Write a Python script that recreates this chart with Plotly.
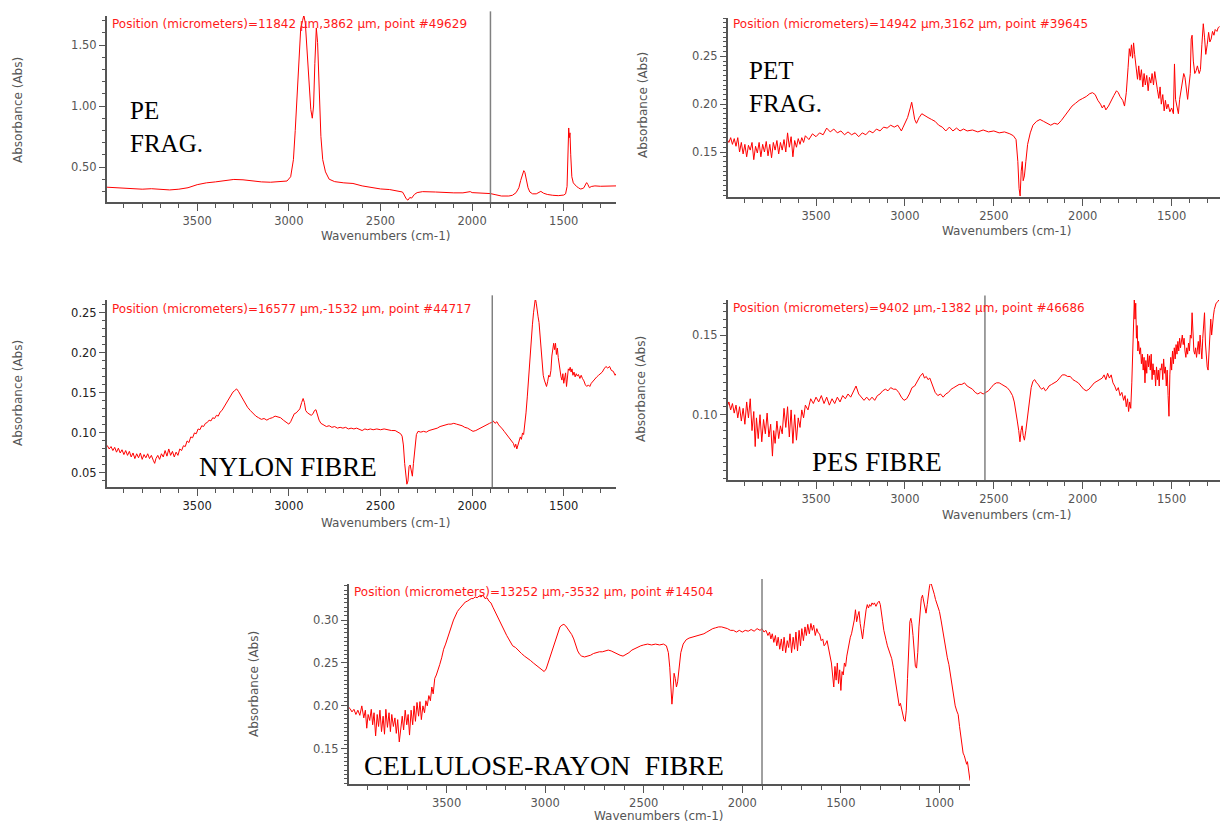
import plotly.graph_objects as go

# ---------------- data ----------------
PE_WN = [
4000, 3950, 3900, 3850, 3800, 3750, 3700, 3650, 3600, 3550,
3500, 3450, 3400, 3350, 3300, 3250, 3200, 3150, 3100, 3050,
3010, 2990, 2975, 2965, 2955, 2945, 2935, 2925, 2918, 2910,
2900, 2890, 2880, 2872, 2865, 2858, 2850, 2843, 2835, 2825,
2815, 2800, 2780, 2750, 2700, 2650, 2600, 2550, 2500, 2450,
2400, 2380, 2370, 2360, 2350, 2340, 2330, 2315, 2300, 2270,
2200, 2150, 2100, 2050, 2020, 2010, 2000, 1950, 1900, 1870,
1840, 1800, 1780, 1760, 1745, 1735, 1725, 1718, 1712, 1705,
1695, 1685, 1670, 1650, 1635, 1625, 1610, 1590, 1560, 1530,
1500, 1490, 1482, 1477, 1473, 1470, 1466, 1462, 1456, 1448,
1440, 1430, 1420, 1410, 1400, 1390, 1380, 1375, 1368, 1360,
1350, 1330, 1300, 1260, 1215]
PE_ABS = [
0.335, 0.330, 0.328, 0.322, 0.318, 0.322, 0.315, 0.312, 0.318, 0.330,
0.355, 0.370, 0.378, 0.388, 0.398, 0.395, 0.385, 0.378, 0.375, 0.378,
0.385, 0.420, 0.560, 0.800, 1.100, 1.420, 1.640, 1.700, 1.745, 1.680,
1.450, 1.150, 0.970, 0.900, 1.000, 1.350, 1.640, 1.520, 1.100, 0.750,
0.560, 0.460, 0.400, 0.380, 0.370, 0.365, 0.345, 0.330, 0.320, 0.315,
0.305, 0.295, 0.270, 0.240, 0.228, 0.250, 0.245, 0.275, 0.290, 0.298,
0.295, 0.290, 0.288, 0.288, 0.292, 0.298, 0.290, 0.288, 0.282, 0.272,
0.262, 0.262, 0.268, 0.290, 0.330, 0.390, 0.445, 0.470, 0.455, 0.400,
0.330, 0.295, 0.280, 0.280, 0.295, 0.300, 0.285, 0.275, 0.268, 0.265,
0.270, 0.280, 0.340, 0.550, 0.820, 0.740, 0.780, 0.600, 0.420, 0.370,
0.355, 0.340, 0.330, 0.320, 0.322, 0.330, 0.360, 0.372, 0.355, 0.330,
0.340, 0.345, 0.342, 0.345, 0.345]

PET_WN = [
4000, 3990, 3980, 3970, 3960, 3950, 3940, 3930, 3920, 3910,
3900, 3890, 3880, 3870, 3860, 3850, 3840, 3830, 3820, 3810,
3800, 3790, 3780, 3770, 3760, 3750, 3740, 3730, 3720, 3710,
3700, 3690, 3680, 3670, 3660, 3650, 3640, 3630, 3620, 3610,
3600, 3590, 3580, 3570, 3560, 3540, 3520, 3500, 3480, 3460,
3440, 3420, 3400, 3380, 3360, 3340, 3320, 3300, 3280, 3260,
3240, 3220, 3200, 3180, 3160, 3140, 3120, 3100, 3080, 3060,
3040, 3020, 3010, 3000, 2985, 2970, 2962, 2955, 2945, 2935,
2920, 2905, 2890, 2870, 2850, 2830, 2810, 2790, 2770, 2750,
2730, 2710, 2690, 2670, 2650, 2620, 2590, 2560, 2530, 2500,
2470, 2440, 2410, 2390, 2375, 2365, 2358, 2352, 2346, 2340,
2335, 2328, 2320, 2310, 2295, 2280, 2260, 2240, 2220, 2200,
2180, 2160, 2140, 2120, 2100, 2080, 2060, 2040, 2020, 2000,
1980, 1960, 1945, 1930, 1915, 1900, 1890, 1880, 1870, 1855,
1840, 1825, 1810, 1800, 1790, 1775, 1765, 1755, 1745, 1738,
1732, 1726, 1720, 1714, 1708, 1700, 1692, 1685, 1678, 1670,
1662, 1655, 1648, 1640, 1632, 1625, 1617, 1610, 1602, 1595,
1588, 1580, 1572, 1565, 1558, 1550, 1542, 1535, 1528, 1520,
1510, 1500, 1490, 1484, 1478, 1470, 1462, 1455, 1448, 1440,
1432, 1425, 1418, 1410, 1402, 1395, 1390, 1385, 1378, 1370,
1362, 1355, 1345, 1338, 1330, 1322, 1315, 1308, 1300, 1292,
1285, 1278, 1270, 1262, 1255, 1245, 1238, 1230]
PET_ABS = [
0.163, 0.160, 0.165, 0.158, 0.164, 0.156, 0.165, 0.150, 0.160, 0.148,
0.158, 0.145, 0.157, 0.152, 0.160, 0.142, 0.156, 0.149, 0.160, 0.145,
0.158, 0.150, 0.161, 0.146, 0.158, 0.144, 0.160, 0.152, 0.162, 0.148,
0.160, 0.152, 0.163, 0.150, 0.170, 0.155, 0.166, 0.145, 0.162, 0.155,
0.164, 0.158, 0.165, 0.160, 0.167, 0.163, 0.169, 0.166, 0.170, 0.168,
0.175, 0.171, 0.174, 0.170, 0.172, 0.168, 0.171, 0.168, 0.170, 0.166,
0.170, 0.168, 0.172, 0.170, 0.174, 0.172, 0.176, 0.175, 0.178, 0.176,
0.178, 0.172, 0.176, 0.180, 0.186, 0.196, 0.202, 0.195, 0.184, 0.180,
0.186, 0.190, 0.188, 0.186, 0.184, 0.182, 0.178, 0.176, 0.172, 0.176,
0.172, 0.175, 0.172, 0.174, 0.172, 0.173, 0.171, 0.173, 0.171, 0.172,
0.170, 0.171, 0.169, 0.167, 0.163, 0.140, 0.112, 0.104, 0.130, 0.140,
0.120, 0.125, 0.140, 0.158, 0.170, 0.178, 0.182, 0.184, 0.182, 0.180,
0.178, 0.180, 0.179, 0.183, 0.188, 0.194, 0.198, 0.201, 0.204, 0.206,
0.208, 0.211, 0.212, 0.210, 0.204, 0.200, 0.196, 0.199, 0.194, 0.198,
0.204, 0.209, 0.214, 0.212, 0.208, 0.204, 0.198, 0.212, 0.238, 0.258,
0.250, 0.262, 0.248, 0.264, 0.252, 0.238, 0.226, 0.240, 0.225, 0.236,
0.218, 0.232, 0.220, 0.230, 0.214, 0.228, 0.222, 0.232, 0.220, 0.234,
0.222, 0.215, 0.206, 0.218, 0.200, 0.210, 0.193, 0.204, 0.195, 0.200,
0.192, 0.196, 0.190, 0.242, 0.205, 0.196, 0.190, 0.205, 0.215, 0.226,
0.232, 0.228, 0.215, 0.205, 0.220, 0.232, 0.268, 0.272, 0.245, 0.232,
0.235, 0.240, 0.232, 0.236, 0.262, 0.284, 0.270, 0.252, 0.262, 0.275,
0.265, 0.268, 0.276, 0.272, 0.278, 0.276, 0.280, 0.281]

NY_WN = [
4000, 3990, 3980, 3970, 3960, 3950, 3940, 3930, 3920, 3910,
3900, 3890, 3880, 3870, 3860, 3850, 3840, 3830, 3820, 3810,
3800, 3790, 3780, 3770, 3760, 3750, 3740, 3732, 3725, 3715,
3705, 3695, 3685, 3675, 3665, 3655, 3645, 3635, 3625, 3615,
3605, 3595, 3585, 3575, 3565, 3555, 3545, 3535, 3525, 3515,
3505, 3495, 3485, 3475, 3465, 3455, 3445, 3435, 3425, 3415,
3405, 3395, 3385, 3375, 3365, 3355, 3345, 3335, 3325, 3315,
3305, 3295, 3285, 3275, 3265, 3255, 3245, 3235, 3225, 3210,
3195, 3180, 3165, 3150, 3135, 3120, 3105, 3090, 3075, 3060,
3045, 3030, 3015, 3000, 2990, 2980, 2970, 2960, 2950, 2940,
2930, 2922, 2915, 2908, 2898, 2888, 2878, 2868, 2860, 2852,
2845, 2835, 2825, 2810, 2795, 2780, 2765, 2750, 2735, 2720,
2705, 2690, 2675, 2660, 2645, 2630, 2615, 2600, 2585, 2570,
2555, 2540, 2520, 2500, 2480, 2460, 2440, 2420, 2400, 2390,
2382, 2375, 2368, 2362, 2356, 2350, 2344, 2338, 2332, 2326,
2320, 2312, 2304, 2295, 2280, 2265, 2250, 2235, 2220, 2205,
2190, 2175, 2160, 2145, 2130, 2115, 2100, 2085, 2070, 2055,
2040, 2025, 2010, 1995, 1980, 1965, 1950, 1935, 1920, 1905,
1895, 1885, 1875, 1865, 1855, 1845, 1835, 1825, 1815, 1805,
1795, 1785, 1775, 1768, 1762, 1756, 1750, 1743, 1737, 1731,
1725, 1719, 1713, 1706, 1699, 1692, 1685, 1678, 1671, 1665,
1660, 1655, 1650, 1645, 1640, 1635, 1630, 1624, 1618, 1612,
1606, 1600, 1594, 1588, 1582, 1576, 1570, 1565, 1560, 1555,
1550, 1545, 1540, 1535, 1530, 1525, 1520, 1515, 1510, 1505,
1500, 1495, 1490, 1485, 1480, 1475, 1470, 1465, 1460, 1455,
1450, 1444, 1438, 1432, 1426, 1420, 1412, 1405, 1398, 1390,
1382, 1374, 1366, 1358, 1350, 1340, 1330, 1320, 1310, 1300,
1290, 1280, 1270, 1260, 1250, 1240, 1230, 1220, 1215]
NY_ABS = [
0.082, 0.084, 0.080, 0.083, 0.078, 0.082, 0.076, 0.081, 0.075, 0.079,
0.073, 0.078, 0.072, 0.077, 0.070, 0.075, 0.068, 0.074, 0.069, 0.075,
0.067, 0.073, 0.069, 0.074, 0.068, 0.072, 0.066, 0.062, 0.068, 0.072,
0.067, 0.074, 0.070, 0.078, 0.071, 0.080, 0.072, 0.077, 0.070, 0.076,
0.072, 0.080, 0.078, 0.084, 0.083, 0.090, 0.088, 0.095, 0.094, 0.100,
0.099, 0.105, 0.104, 0.109, 0.108, 0.112, 0.113, 0.116, 0.115, 0.119,
0.118, 0.122, 0.121, 0.126, 0.128, 0.132, 0.135, 0.139, 0.143, 0.147,
0.151, 0.153, 0.155, 0.152, 0.148, 0.144, 0.140, 0.136, 0.132, 0.128,
0.124, 0.121, 0.119, 0.117, 0.118, 0.116, 0.118, 0.119, 0.121, 0.120,
0.119, 0.116, 0.114, 0.111, 0.114, 0.120, 0.124, 0.125, 0.127, 0.130,
0.138, 0.143, 0.138, 0.128, 0.125, 0.124, 0.122, 0.124, 0.128, 0.129,
0.124, 0.116, 0.112, 0.110, 0.108, 0.109, 0.107, 0.108, 0.106, 0.107,
0.106, 0.107, 0.105, 0.106, 0.105, 0.106, 0.104, 0.103, 0.105, 0.104,
0.105, 0.104, 0.105, 0.104, 0.105, 0.104, 0.103, 0.103, 0.101, 0.099,
0.096, 0.085, 0.062, 0.045, 0.036, 0.040, 0.058, 0.060, 0.050, 0.046,
0.062, 0.085, 0.098, 0.102, 0.101, 0.102, 0.101, 0.103, 0.104, 0.105,
0.106, 0.108, 0.109, 0.110, 0.111, 0.111, 0.112, 0.111, 0.110, 0.109,
0.107, 0.106, 0.104, 0.102, 0.103, 0.105, 0.107, 0.109, 0.111, 0.112,
0.113, 0.115, 0.112, 0.114, 0.110, 0.108, 0.105, 0.102, 0.099, 0.096,
0.093, 0.090, 0.087, 0.082, 0.086, 0.080, 0.085, 0.088, 0.095, 0.092,
0.100, 0.098, 0.108, 0.125, 0.145, 0.170, 0.195, 0.218, 0.235, 0.250,
0.266, 0.268, 0.262, 0.250, 0.245, 0.238, 0.225, 0.205, 0.185, 0.172,
0.166, 0.162, 0.158, 0.164, 0.172, 0.170, 0.178, 0.196, 0.205, 0.212,
0.204, 0.212, 0.198, 0.206, 0.194, 0.186, 0.175, 0.170, 0.166, 0.174,
0.162, 0.170, 0.175, 0.158, 0.172, 0.180, 0.178, 0.182, 0.176, 0.180,
0.172, 0.176, 0.170, 0.174, 0.171, 0.173, 0.168, 0.172, 0.168, 0.165,
0.160, 0.158, 0.160, 0.158, 0.162, 0.165, 0.168, 0.170, 0.172, 0.174,
0.176, 0.180, 0.183, 0.181, 0.183, 0.178, 0.177, 0.172, 0.174]

PES_WN = [
4000, 3990, 3980, 3970, 3960, 3950, 3940, 3930, 3920, 3910,
3900, 3890, 3880, 3870, 3860, 3850, 3842, 3835, 3825, 3815,
3805, 3795, 3785, 3775, 3765, 3755, 3745, 3738, 3730, 3720,
3710, 3700, 3690, 3680, 3670, 3660, 3650, 3640, 3630, 3620,
3610, 3600, 3590, 3580, 3570, 3560, 3545, 3530, 3515, 3500,
3485, 3470, 3455, 3440, 3425, 3410, 3395, 3380, 3365, 3350,
3335, 3320, 3305, 3290, 3275, 3260, 3245, 3230, 3215, 3200,
3185, 3170, 3155, 3140, 3125, 3110, 3095, 3080, 3065, 3050,
3035, 3020, 3005, 2990, 2975, 2960, 2945, 2930, 2915, 2900,
2890, 2880, 2870, 2860, 2850, 2840, 2830, 2815, 2800, 2785,
2770, 2755, 2740, 2725, 2710, 2695, 2680, 2665, 2650, 2635,
2620, 2605, 2590, 2575, 2560, 2545, 2530, 2515, 2500, 2485,
2470, 2455, 2440, 2425, 2410, 2395, 2385, 2375, 2368, 2360,
2353, 2347, 2341, 2335, 2328, 2320, 2310, 2300, 2290, 2280,
2270, 2260, 2250, 2240, 2230, 2220, 2210, 2200, 2190, 2175,
2160, 2145, 2130, 2115, 2100, 2085, 2070, 2055, 2040, 2025,
2010, 1995, 1980, 1965, 1950, 1935, 1920, 1905, 1890, 1880,
1870, 1860, 1850, 1840, 1830, 1820, 1810, 1800, 1790, 1780,
1770, 1762, 1755, 1748, 1742, 1736, 1730, 1724, 1718, 1714,
1710, 1706, 1702, 1698, 1694, 1690, 1686, 1680, 1675, 1670,
1665, 1660, 1655, 1650, 1645, 1640, 1635, 1630, 1625, 1620,
1615, 1610, 1605, 1600, 1595, 1590, 1585, 1580, 1575, 1570,
1565, 1560, 1555, 1550, 1545, 1540, 1535, 1530, 1525, 1520,
1515, 1510, 1505, 1500, 1495, 1490, 1485, 1480, 1475, 1470,
1465, 1460, 1455, 1450, 1445, 1440, 1435, 1430, 1425, 1420,
1415, 1410, 1405, 1400, 1395, 1390, 1385, 1380, 1375, 1370,
1365, 1360, 1355, 1350, 1345, 1340, 1335, 1330, 1325, 1320,
1315, 1310, 1305, 1300, 1295, 1290, 1285, 1280, 1275, 1270,
1265, 1260, 1255, 1250, 1240, 1235]
PES_ABS = [
0.105, 0.108, 0.103, 0.107, 0.101, 0.106, 0.098, 0.105, 0.096, 0.104,
0.094, 0.108, 0.098, 0.110, 0.090, 0.102, 0.080, 0.098, 0.085, 0.100,
0.083, 0.097, 0.088, 0.101, 0.086, 0.094, 0.074, 0.090, 0.082, 0.096,
0.085, 0.093, 0.088, 0.104, 0.092, 0.105, 0.086, 0.103, 0.082, 0.100,
0.084, 0.098, 0.092, 0.103, 0.098, 0.106, 0.103, 0.110, 0.107, 0.111,
0.108, 0.112, 0.107, 0.111, 0.106, 0.110, 0.107, 0.111, 0.108, 0.112,
0.110, 0.113, 0.111, 0.115, 0.118, 0.113, 0.111, 0.109, 0.111, 0.109,
0.111, 0.109, 0.112, 0.113, 0.115, 0.116, 0.115, 0.117, 0.116, 0.116,
0.114, 0.111, 0.109, 0.110, 0.113, 0.117, 0.118, 0.121, 0.124, 0.126,
0.123, 0.124, 0.122, 0.123, 0.120, 0.117, 0.114, 0.112, 0.113, 0.111,
0.113, 0.114, 0.116, 0.117, 0.118, 0.119, 0.119, 0.120, 0.118, 0.117,
0.116, 0.114, 0.113, 0.114, 0.113, 0.114, 0.115, 0.117, 0.119, 0.120,
0.120, 0.119, 0.118, 0.117, 0.115, 0.112, 0.108, 0.102, 0.096, 0.090,
0.083, 0.090, 0.093, 0.087, 0.084, 0.090, 0.100, 0.110, 0.117, 0.121,
0.122, 0.120, 0.119, 0.117, 0.116, 0.117, 0.115, 0.116, 0.118, 0.119,
0.120, 0.121, 0.123, 0.125, 0.125, 0.124, 0.124, 0.122, 0.121, 0.120,
0.118, 0.116, 0.115, 0.116, 0.118, 0.120, 0.121, 0.122, 0.123, 0.125,
0.122, 0.126, 0.123, 0.125, 0.120, 0.118, 0.115, 0.117, 0.112, 0.114,
0.109, 0.112, 0.105, 0.110, 0.102, 0.108, 0.104, 0.120, 0.150, 0.168,
0.172, 0.160, 0.170, 0.148, 0.156, 0.140, 0.146, 0.138, 0.142, 0.132,
0.138, 0.128, 0.136, 0.120, 0.134, 0.126, 0.138, 0.130, 0.137, 0.128,
0.138, 0.122, 0.132, 0.125, 0.128, 0.118, 0.130, 0.122, 0.128, 0.118,
0.129, 0.128, 0.132, 0.122, 0.135, 0.126, 0.130, 0.118, 0.128, 0.112,
0.099, 0.125, 0.136, 0.128, 0.140, 0.132, 0.142, 0.135, 0.144, 0.138,
0.146, 0.140, 0.148, 0.142, 0.145, 0.150, 0.144, 0.148, 0.140, 0.136,
0.142, 0.138, 0.145, 0.140, 0.150, 0.148, 0.164, 0.150, 0.140, 0.138,
0.142, 0.136, 0.140, 0.146, 0.138, 0.150, 0.142, 0.135, 0.148, 0.158,
0.164, 0.145, 0.135, 0.130, 0.128, 0.140, 0.150, 0.160, 0.150, 0.158,
0.162, 0.166, 0.168, 0.170, 0.171, 0.172]

CE_WN = [
4000, 3990, 3980, 3970, 3960, 3950, 3940, 3930, 3920, 3912,
3905, 3898, 3890, 3882, 3875, 3868, 3860, 3852, 3845, 3838,
3830, 3822, 3815, 3808, 3800, 3792, 3785, 3778, 3770, 3762,
3755, 3748, 3740, 3732, 3725, 3718, 3710, 3702, 3695, 3688,
3680, 3672, 3665, 3658, 3650, 3642, 3635, 3628, 3620, 3612,
3605, 3598, 3590, 3582, 3575, 3568, 3560, 3552, 3545, 3535,
3525, 3515, 3505, 3495, 3485, 3475, 3465, 3455, 3445, 3435,
3425, 3415, 3405, 3395, 3385, 3375, 3365, 3355, 3345, 3335,
3325, 3315, 3305, 3295, 3285, 3275, 3265, 3255, 3245, 3235,
3225, 3215, 3205, 3195, 3185, 3175, 3165, 3150, 3135, 3120,
3105, 3090, 3075, 3060, 3045, 3030, 3015, 3005, 2995, 2985,
2975, 2965, 2955, 2945, 2935, 2925, 2915, 2905, 2895, 2885,
2875, 2865, 2855, 2845, 2835, 2825, 2815, 2800, 2785, 2770,
2755, 2740, 2725, 2710, 2695, 2680, 2665, 2650, 2635, 2620,
2605, 2590, 2575, 2560, 2545, 2530, 2515, 2500, 2480, 2460,
2440, 2420, 2400, 2385, 2375, 2368, 2362, 2357, 2352, 2346,
2340, 2334, 2328, 2320, 2312, 2300, 2285, 2270, 2255, 2240,
2225, 2210, 2195, 2180, 2165, 2150, 2135, 2120, 2105, 2090,
2075, 2060, 2045, 2030, 2015, 2000, 1985, 1970, 1955, 1940,
1925, 1910, 1900, 1890, 1880, 1870, 1862, 1855, 1848, 1840,
1832, 1825, 1818, 1810, 1802, 1795, 1788, 1780, 1772, 1765,
1758, 1750, 1742, 1735, 1728, 1720, 1712, 1705, 1698, 1690,
1682, 1675, 1668, 1660, 1652, 1645, 1638, 1630, 1622, 1615,
1608, 1600, 1592, 1585, 1578, 1570, 1562, 1555, 1548, 1542,
1536, 1530, 1524, 1518, 1512, 1506, 1500, 1494, 1488, 1482,
1476, 1470, 1464, 1458, 1452, 1446, 1440, 1432, 1426, 1420,
1414, 1408, 1402, 1396, 1390, 1384, 1378, 1372, 1366, 1360,
1354, 1348, 1342, 1336, 1330, 1322, 1314, 1306, 1300, 1294,
1288, 1282, 1276, 1270, 1264, 1258, 1250, 1242, 1234, 1226,
1218, 1210, 1204, 1198, 1192, 1186, 1180, 1174, 1168, 1162,
1156, 1150, 1145, 1140, 1134, 1128, 1122, 1116, 1110, 1104,
1098, 1092, 1086, 1080, 1074, 1068, 1062, 1056, 1050, 1044,
1038, 1032, 1026, 1020, 1012, 1004, 1000, 992, 984, 976,
968, 960, 952, 944, 936, 928, 920, 912, 905, 898,
892, 886, 880, 874, 868, 862, 858, 852, 848, 845]
CE_ABS = [
0.199, 0.197, 0.193, 0.196, 0.190, 0.195, 0.189, 0.200, 0.186, 0.195,
0.174, 0.190, 0.183, 0.196, 0.178, 0.192, 0.165, 0.190, 0.176, 0.195,
0.170, 0.188, 0.167, 0.196, 0.175, 0.192, 0.170, 0.190, 0.176, 0.186,
0.168, 0.184, 0.158, 0.176, 0.188, 0.172, 0.195, 0.178, 0.190, 0.166,
0.195, 0.178, 0.200, 0.182, 0.204, 0.188, 0.205, 0.184, 0.200, 0.192,
0.206, 0.200, 0.212, 0.206, 0.222, 0.214, 0.232, 0.236, 0.240, 0.248,
0.256, 0.266, 0.272, 0.280, 0.286, 0.293, 0.300, 0.306, 0.310, 0.313,
0.316, 0.319, 0.321, 0.322, 0.324, 0.325, 0.325, 0.327, 0.326, 0.328,
0.327, 0.329, 0.325, 0.326, 0.322, 0.320, 0.315, 0.310, 0.305, 0.301,
0.295, 0.290, 0.287, 0.282, 0.278, 0.274, 0.270, 0.268, 0.264, 0.261,
0.258, 0.256, 0.253, 0.250, 0.247, 0.244, 0.241, 0.240, 0.243, 0.250,
0.258, 0.265, 0.272, 0.280, 0.287, 0.292, 0.294, 0.295, 0.293, 0.290,
0.287, 0.283, 0.278, 0.270, 0.264, 0.260, 0.258, 0.257, 0.258, 0.259,
0.261, 0.262, 0.263, 0.263, 0.264, 0.265, 0.264, 0.262, 0.261, 0.259,
0.258, 0.260, 0.262, 0.265, 0.267, 0.268, 0.270, 0.271, 0.272, 0.271,
0.272, 0.271, 0.272, 0.270, 0.262, 0.245, 0.222, 0.202, 0.215, 0.238,
0.232, 0.222, 0.228, 0.245, 0.262, 0.272, 0.277, 0.279, 0.280, 0.281,
0.282, 0.283, 0.284, 0.286, 0.288, 0.290, 0.291, 0.292, 0.292, 0.291,
0.290, 0.288, 0.288, 0.286, 0.288, 0.286, 0.288, 0.287, 0.289, 0.287,
0.290, 0.288, 0.290, 0.286, 0.288, 0.282, 0.286, 0.278, 0.284, 0.274,
0.282, 0.270, 0.280, 0.266, 0.278, 0.264, 0.280, 0.262, 0.276, 0.268,
0.284, 0.262, 0.280, 0.266, 0.286, 0.264, 0.288, 0.270, 0.290, 0.276,
0.292, 0.282, 0.295, 0.284, 0.296, 0.288, 0.294, 0.282, 0.290, 0.285,
0.284, 0.276, 0.278, 0.270, 0.272, 0.276, 0.266, 0.258, 0.250, 0.236,
0.222, 0.246, 0.230, 0.250, 0.226, 0.242, 0.218, 0.240, 0.236, 0.250,
0.246, 0.258, 0.266, 0.272, 0.280, 0.284, 0.290, 0.300, 0.312, 0.298,
0.305, 0.310, 0.296, 0.285, 0.278, 0.290, 0.304, 0.312, 0.318, 0.314,
0.318, 0.316, 0.320, 0.318, 0.320, 0.316, 0.320, 0.322, 0.318, 0.310,
0.298, 0.288, 0.280, 0.276, 0.270, 0.266, 0.260, 0.255, 0.245, 0.234,
0.222, 0.210, 0.200, 0.203, 0.196, 0.190, 0.184, 0.182, 0.195, 0.232,
0.275, 0.298, 0.302, 0.296, 0.282, 0.262, 0.246, 0.244, 0.262, 0.292,
0.315, 0.325, 0.329, 0.322, 0.312, 0.308, 0.318, 0.332, 0.340, 0.344,
0.340, 0.334, 0.330, 0.324, 0.318, 0.313, 0.310, 0.300, 0.288, 0.276,
0.265, 0.256, 0.248, 0.235, 0.222, 0.210, 0.200, 0.194, 0.190, 0.176,
0.164, 0.152, 0.145, 0.142, 0.138, 0.132, 0.135, 0.124, 0.118, 0.113]

SAMPLE_LABELS = ["PE<br>FRAG.", "PET<br>FRAG.", "NYLON FIBRE", "PES FIBRE",
                 "CELLULOSE-RAYON\u00a0 FIBRE"]
POSITION_TEXTS = [
    "Position (micrometers)=11842 \u00b5m,3862 \u00b5m, point #49629",
    "Position (micrometers)=14942 \u00b5m,3162 \u00b5m, point #39645",
    "Position (micrometers)=16577 \u00b5m,-1532 \u00b5m, point #44717",
    "Position (micrometers)=9402 \u00b5m,-1382 \u00b5m, point #46686",
    "Position (micrometers)=13252 \u00b5m,-3532 \u00b5m, point #14504",
]
X_TITLE = "Wavenumbers (cm-1)"
Y_TITLE = "Absorbance (Abs)"
CURSOR_WN = [1900, None, 1890, 2550, 1900]

# ---------------- layout geometry (pixels) ----------------
W, H = 1220, 829
def fx(p): return p / W
def fy(p): return 1 - p / H

panels = [
    dict(wn=PE_WN, ab=PE_ABS, box=(107, 16, 616, 202), xr=[3992, 1215], yr=[0.213, 1.738],
         dt=0.5, mdt=0.1, lab=(128, 127), labsize=25, ytit=(18, 110), xtit=(385, 236), pos=(110, 24)),
    dict(wn=PET_WN, ab=PET_ABS, box=(728, 18, 1220, 197), xr=[3995, 1228], yr=[0.103, 0.290],
         dt=0.05, mdt=0.005, lab=(747, 87), labsize=25, ytit=(643, 105), xtit=(1007, 231), pos=(731, 24)),
    dict(wn=NY_WN, ab=NY_ABS, box=(107, 300, 616, 487), xr=[3992, 1215], yr=[0.0325, 0.266],
         dt=0.05, mdt=0.01, lab=(197, 467), labsize=27, ytit=(18, 393), xtit=(385, 523), pos=(110, 309)),
    dict(wn=PES_WN, ab=PES_ABS, box=(728, 300, 1220, 480), xr=[3995, 1228], yr=[0.059, 0.172],
         dt=0.05, mdt=0.005, lab=(810, 462), labsize=27, ytit=(641, 389), xtit=(1007, 515), pos=(731, 308)),
    dict(wn=CE_WN, ab=CE_ABS, box=(349, 584, 970, 784), xr=[3995, 845], yr=[0.109, 0.342],
         dt=0.05, mdt=0.005, lab=(362, 765), labsize=28, ytit=(254, 684), xtit=(658, 816), pos=(352, 592)),
]

AX = "#555555"
fig = go.Figure()
layout = dict(width=W, height=H, margin=dict(l=0, r=0, t=0, b=0), paper_bgcolor="white",
              plot_bgcolor="white", showlegend=False)
shapes, annotations = [], []

for i, p in enumerate(panels):
    n = "" if i == 0 else str(i + 1)
    x0, y0, x1, y1 = p["box"]
    tickcol = "#222222" if i == 2 else AX
    fig.add_trace(go.Scatter(x=p["wn"], y=p["ab"], mode="lines",
                             line=dict(color="#ff0000", width=1),
                             xaxis="x" + n, yaxis="y" + n, hoverinfo="skip"))
    layout["xaxis" + n] = dict(
        domain=[fx(x0), min(1.0, fx(x1))], anchor="y" + n, range=p["xr"],
        showline=True, linecolor=AX, linewidth=2, mirror=False,
        ticks="outside", ticklen=7, tickwidth=1, tickcolor=AX,
        tick0=0, dtick=500, tickformat="d",
        tickfont=dict(family="DejaVu Sans", size=11.5, color=tickcol),
        minor=dict(ticks="outside", ticklen=4, tickwidth=1, tickcolor=AX, dtick=100, tick0=0, showgrid=False),
        showgrid=False, zeroline=False, fixedrange=True)
    layout["yaxis" + n] = dict(
        domain=[fy(y1), fy(y0)], anchor="x" + n, range=p["yr"],
        showline=True, linecolor=AX, linewidth=2,
        ticks="outside", ticklen=6, tickwidth=1, tickcolor=AX,
        tick0=0, dtick=p["dt"], tickformat=".2f",
        tickfont=dict(family="DejaVu Sans", size=11.5, color=tickcol),
        minor=dict(ticks="outside", ticklen=3, tickwidth=1, tickcolor=AX, dtick=p["mdt"], tick0=0, showgrid=False),
        showgrid=False, zeroline=False, fixedrange=True)
    if CURSOR_WN[i] is not None:
        shapes.append(dict(type="line", xref="x" + n, yref="y" + n + " domain",
                           x0=CURSOR_WN[i], x1=CURSOR_WN[i], y0=0, y1=1.025,
                           line=dict(color="#808080", width=1.5)))
    annotations.append(dict(text=POSITION_TEXTS[i], xref="paper", yref="paper",
                            x=fx(p["pos"][0]), y=fy(p["pos"][1]), xanchor="left", yanchor="middle",
                            showarrow=False, font=dict(family="DejaVu Sans", size=12, color="#ff1a1a")))
    annotations.append(dict(text=SAMPLE_LABELS[i], xref="paper", yref="paper",
                            x=fx(p["lab"][0]), y=fy(p["lab"][1]), xanchor="left", yanchor="middle",
                            align="left", showarrow=False,
                            font=dict(family="Liberation Serif", size=p["labsize"], color="black")))
    annotations.append(dict(text=Y_TITLE, xref="paper", yref="paper", textangle=-90,
                            x=fx(p["ytit"][0]), y=fy(p["ytit"][1]), xanchor="center", yanchor="middle",
                            showarrow=False, font=dict(family="DejaVu Sans", size=12, color=AX)))
    annotations.append(dict(text=X_TITLE, xref="paper", yref="paper",
                            x=fx(p["xtit"][0]), y=fy(p["xtit"][1]), xanchor="center", yanchor="middle",
                            showarrow=False, font=dict(family="DejaVu Sans", size=12, color=AX)))

layout["shapes"] = shapes
layout["annotations"] = annotations
fig.update_layout(**layout)
fig.write_html("out.html", config=dict(displayModeBar=False),
               post_script="document.body.style.margin='0px';document.body.style.overflow='hidden';")
